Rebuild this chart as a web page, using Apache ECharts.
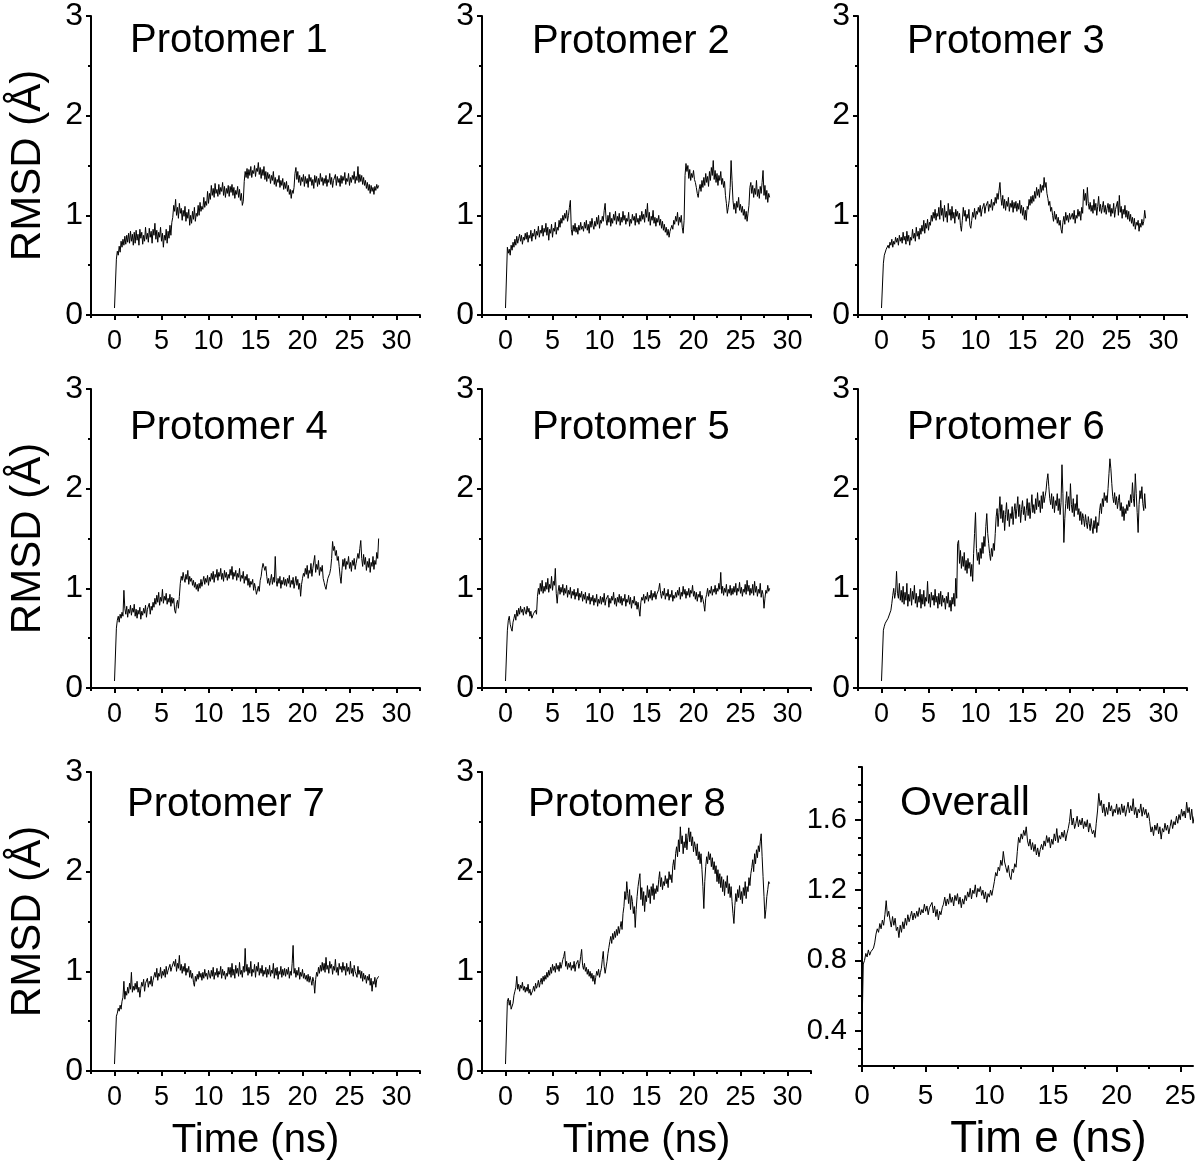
<!DOCTYPE html>
<html><head><meta charset="utf-8">
<script src="https://cdn.jsdelivr.net/npm/echarts@6/dist/echarts.min.js"></script>
<style>html,body{margin:0;padding:0;background:#fff}#c{width:1200px;height:1168px}</style>
</head><body><div id="c"></div>
<script>
// ---------- DATA ----------
const titles = ['Protomer 1','Protomer 2','Protomer 3','Protomer 4','Protomer 5','Protomer 6','Protomer 7','Protomer 8','Overall'];
const yTicksP = [0,1,2,3];
const yMinorP = [0.5,1.5,2.5];
const xTicksP = [0,5,10,15,20,25,30];
const xMinorP = [-2.5,2.5,7.5,12.5,17.5,22.5,27.5,32.5];
const yTicksO = [0.4,0.8,1.2,1.6];
const yMinorO = [0.2,0.3,0.5,0.6,0.7,0.9,1.0,1.1,1.3,1.4,1.5,1.7,1.8,1.9];
const xTicksO = [0,5,10,15,20,25];
const xMinorO = [2.5,7.5,12.5,17.5,22.5];

// sample times (ns)
const time = [0,0.1,
 0.2,0.3,0.4,0.5,0.6,0.7,0.8,0.9,1.0,1.1,1.2,1.3,1.4,1.5,1.6,1.7,1.8,1.9,2.0,2.1,
 2.2,2.3,2.4,2.5,2.6,2.7,2.8,2.9,3.0,3.1,3.2,3.3,3.4,3.5,3.6,3.7,3.8,3.9,4.0,4.1,
 4.2,4.3,4.4,4.5,4.6,4.7,4.8,4.9,5.0,5.1,5.2,5.3,5.4,5.5,5.6,5.7,5.8,5.9,6.0,6.1,
 6.2,6.3,6.4,6.5,6.6,6.7,6.8,6.9,7.0,7.1,7.2,7.3,7.4,7.5,7.6,7.7,7.8,7.9,8.0,8.1,
 8.2,8.3,8.4,8.5,8.6,8.7,8.8,8.9,9.0,9.1,9.2,9.3,9.4,9.5,9.6,9.7,9.8,9.9,10.0,10.1,
 10.2,10.3,10.4,10.5,10.6,10.7,10.8,10.9,11.0,11.1,11.2,11.3,11.4,11.5,11.6,11.7,11.8,11.9,12.0,12.1,
 12.2,12.3,12.4,12.5,12.6,12.7,12.8,12.9,13.0,13.1,13.2,13.3,13.4,13.5,13.6,13.7,13.8,13.9,14.0,14.1,
 14.2,14.3,14.4,14.5,14.6,14.7,14.8,14.9,15.0,15.1,15.2,15.3,15.4,15.5,15.6,15.7,15.8,15.9,16.0,16.1,
 16.2,16.3,16.4,16.5,16.6,16.7,16.8,16.9,17.0,17.1,17.2,17.3,17.4,17.5,17.6,17.7,17.8,17.9,18.0,18.1,
 18.2,18.3,18.4,18.5,18.6,18.7,18.8,18.9,19.0,19.1,19.2,19.3,19.4,19.5,19.6,19.7,19.8,19.9,20.0,20.1,
 20.2,20.3,20.4,20.5,20.6,20.7,20.8,20.9,21.0,21.1,21.2,21.3,21.4,21.5,21.6,21.7,21.8,21.9,22.0,22.1,
 22.2,22.3,22.4,22.5,22.6,22.7,22.8,22.9,23.0,23.1,23.2,23.3,23.4,23.5,23.6,23.7,23.8,23.9,24.0,24.1,
 24.2,24.3,24.4,24.5,24.6,24.7,24.8,24.9,25.0,25.1,25.2,25.3,25.4,25.5,25.6,25.7,25.8,25.9,26.0,26.1,
 26.2,26.3,26.4,26.5,26.6,26.7,26.8,26.9,27.0,27.1,27.2,27.3,27.4,27.5,27.6,27.7,27.8,27.9,28.0,28.1];

const p1 = [0.07,0.07,
 0.56,0.64,0.60,0.69,0.63,0.74,0.68,0.76,0.70,0.79,0.71,0.80,0.73,0.82,0.72,0.84,0.74,0.81,0.70,0.83,
 0.72,0.85,0.75,0.81,0.70,0.86,0.77,0.83,0.71,0.80,0.74,0.88,0.76,0.82,0.73,0.87,0.78,0.84,0.72,0.86,
 0.80,0.92,0.76,0.85,0.73,0.83,0.78,0.88,0.74,0.82,0.68,0.80,0.75,0.86,0.72,0.84,0.77,0.90,0.80,0.93,
 0.98,1.10,1.04,1.16,1.00,1.08,0.97,1.12,1.02,1.07,0.95,1.05,0.99,1.09,0.94,1.03,0.97,1.06,0.90,1.00,
 0.92,1.04,0.96,1.08,0.94,1.02,0.99,1.10,1.00,1.13,1.04,1.09,1.06,1.18,1.08,1.14,1.10,1.24,1.12,1.22,
 1.16,1.30,1.20,1.27,1.18,1.32,1.22,1.26,1.19,1.31,1.21,1.28,1.24,1.33,1.20,1.29,1.18,1.27,1.22,1.30,
 1.19,1.29,1.23,1.31,1.20,1.28,1.17,1.25,1.21,1.29,1.18,1.26,1.15,1.22,1.10,1.14,1.34,1.44,1.38,1.47,
 1.37,1.46,1.40,1.49,1.38,1.45,1.42,1.50,1.39,1.47,1.44,1.53,1.41,1.48,1.37,1.46,1.40,1.49,1.36,1.44,
 1.34,1.43,1.37,1.41,1.32,1.40,1.35,1.44,1.31,1.38,1.29,1.36,1.33,1.40,1.28,1.35,1.30,1.37,1.26,1.33,
 1.27,1.34,1.24,1.30,1.21,1.26,1.17,1.25,1.22,1.28,1.42,1.48,1.36,1.44,1.33,1.40,1.30,1.38,1.34,1.41,
 1.29,1.39,1.32,1.37,1.28,1.41,1.34,1.38,1.30,1.36,1.27,1.40,1.33,1.39,1.29,1.37,1.31,1.42,1.34,1.38,
 1.30,1.37,1.32,1.40,1.29,1.36,1.33,1.42,1.31,1.38,1.28,1.35,1.34,1.41,1.30,1.39,1.33,1.37,1.29,1.40,
 1.32,1.39,1.35,1.43,1.31,1.37,1.34,1.42,1.30,1.38,1.33,1.40,1.36,1.44,1.32,1.39,1.35,1.49,1.33,1.41,
 1.34,1.40,1.31,1.38,1.30,1.35,1.27,1.33,1.25,1.31,1.22,1.30,1.24,1.28,1.21,1.29,1.25,1.31,1.27,1.30];

const p2 = [0.07,0.07,
 0.68,0.62,0.66,0.60,0.70,0.65,0.73,0.68,0.76,0.70,0.79,0.72,0.77,0.81,0.74,0.80,0.71,0.78,0.75,0.82,
 0.76,0.83,0.73,0.80,0.77,0.85,0.74,0.82,0.79,0.86,0.76,0.84,0.80,0.89,0.78,0.85,0.82,0.90,0.79,0.87,
 0.83,0.92,0.80,0.88,0.75,0.86,0.82,0.91,0.78,0.87,0.84,0.93,0.81,0.88,0.85,0.95,0.88,0.97,0.92,1.00,
 0.95,1.02,0.97,1.05,0.94,1.00,1.08,1.15,0.86,0.80,0.90,0.84,0.92,0.83,0.88,0.81,0.90,0.85,0.93,0.86,
 0.89,0.84,0.93,0.87,0.95,0.85,0.91,0.82,0.94,0.88,0.97,0.90,0.86,0.94,0.89,0.98,0.91,1.00,0.87,0.95,
 0.92,0.99,0.94,1.05,1.12,0.96,0.90,1.00,0.93,1.03,0.89,0.97,0.92,1.01,0.95,1.04,0.91,0.99,0.94,1.02,
 0.90,0.98,0.93,1.04,0.95,1.00,0.91,0.97,0.94,1.03,0.89,0.96,0.92,1.01,0.95,0.99,0.90,1.02,0.93,0.97,
 0.91,1.00,0.94,1.04,0.96,1.01,0.93,1.06,0.98,1.12,0.94,1.03,0.90,0.99,0.95,1.05,0.92,0.98,0.89,0.97,
 0.93,1.00,0.90,0.96,0.87,0.94,0.85,0.91,0.83,0.88,0.80,0.86,0.78,0.84,0.82,0.90,0.86,0.95,0.91,0.99,
 0.94,1.03,0.90,0.98,0.93,1.00,0.88,0.82,0.95,1.40,1.52,1.44,1.50,1.37,1.46,1.35,1.42,1.38,1.45,1.36,
 1.33,1.28,1.22,1.18,1.26,1.31,1.24,1.35,1.28,1.38,1.30,1.42,1.33,1.39,1.29,1.44,1.35,1.48,1.40,1.55,
 1.36,1.45,1.33,1.42,1.30,1.40,1.35,1.44,1.31,1.37,1.28,1.34,1.20,1.12,1.02,1.08,1.15,1.28,1.55,1.35,
 1.15,1.06,1.12,1.02,1.14,1.08,1.18,1.05,1.11,1.03,1.09,1.00,1.06,0.96,1.04,0.94,1.02,1.10,1.28,1.33,
 1.22,1.30,1.18,1.27,1.21,1.35,1.19,1.26,1.17,1.29,1.22,1.33,1.45,1.20,1.30,1.16,1.25,1.13,1.22,1.18];

const p3 = [0.07,0.07,
 0.52,0.60,0.58,0.66,0.64,0.70,0.67,0.73,0.70,0.76,0.68,0.74,0.71,0.78,0.73,0.77,0.70,0.80,0.74,0.78,
 0.72,0.83,0.75,0.79,0.71,0.84,0.74,0.80,0.70,0.78,0.75,0.86,0.77,0.82,0.74,0.88,0.79,0.84,0.76,0.87,
 0.81,0.90,0.84,0.95,0.82,0.92,0.87,0.96,0.85,0.93,0.90,1.00,0.94,1.03,0.97,1.06,0.95,1.02,0.99,1.08,
 0.96,1.15,1.00,1.07,0.94,1.10,0.98,1.04,0.93,1.12,1.00,1.06,0.95,1.09,0.97,1.03,0.92,1.06,0.99,1.04,
 0.96,1.02,0.90,0.84,0.95,1.08,0.99,1.05,0.94,1.01,0.97,1.06,0.90,0.87,0.95,1.03,0.98,1.07,0.96,1.04,
 1.01,1.08,1.03,1.10,0.99,1.06,1.05,1.12,1.02,1.09,1.07,1.14,1.04,1.11,1.08,1.16,1.05,1.13,1.10,1.18,
 1.12,1.22,1.16,1.25,1.33,1.18,1.10,1.20,1.07,1.16,1.05,1.14,1.09,1.18,1.04,1.12,1.08,1.15,1.03,1.13,
 1.07,1.14,1.04,1.12,1.06,1.15,1.02,1.10,1.00,1.08,0.96,1.05,0.95,1.09,1.06,1.16,1.10,1.19,1.12,1.20,
 1.14,1.24,1.17,1.28,1.20,1.26,1.18,1.31,1.23,1.30,1.25,1.38,1.28,1.33,1.22,1.17,1.10,1.14,1.04,1.08,
 1.00,0.94,1.04,0.96,1.01,0.92,0.98,0.90,0.95,0.86,0.82,0.93,0.99,0.91,1.03,0.95,1.00,0.93,1.02,0.96,
 0.94,1.02,0.96,1.05,0.92,1.00,0.97,1.06,0.99,1.04,0.95,1.08,1.02,1.26,1.15,1.22,1.10,1.28,1.12,1.06,
 1.13,1.04,1.10,1.02,1.16,1.05,1.12,1.00,1.09,1.19,1.04,1.11,1.02,1.08,1.14,1.03,1.10,1.01,1.07,1.12,
 1.03,1.11,0.99,1.07,1.02,1.12,0.98,1.06,1.04,1.14,1.00,1.20,1.03,1.09,0.97,1.06,1.01,1.10,0.98,1.05,
 0.96,1.04,0.94,1.01,0.92,0.98,0.89,0.97,0.86,0.93,0.90,0.95,0.84,0.92,0.88,0.96,0.90,0.94,1.05,0.97];

const p4 = [0.07,0.07,
 0.60,0.68,0.72,0.66,0.74,0.70,0.76,0.72,0.98,0.80,0.74,0.82,0.71,0.79,0.75,0.83,0.73,0.80,0.76,0.84,
 0.72,0.79,0.70,0.78,0.74,0.81,0.69,0.77,0.73,0.80,0.75,0.83,0.71,0.79,0.77,0.85,0.74,0.82,0.78,0.86,
 0.81,0.90,0.84,0.93,0.86,0.96,0.83,0.91,0.87,0.99,0.85,0.92,0.88,0.95,0.84,0.90,0.86,0.94,0.82,0.91,
 0.85,0.90,0.78,0.75,0.84,0.88,0.80,0.92,1.05,1.12,1.08,1.16,1.10,1.06,1.14,1.09,1.18,1.04,1.12,1.07,
 1.10,1.03,1.08,1.01,1.06,0.99,1.04,0.97,1.05,1.00,1.09,1.02,1.07,1.12,1.04,1.10,1.06,1.13,1.03,1.11,
 1.07,1.15,1.09,1.17,1.06,1.14,1.11,1.19,1.08,1.16,1.12,1.20,1.09,1.15,1.07,1.18,1.11,1.16,1.08,1.14,
 1.10,1.19,1.13,1.22,1.09,1.16,1.12,1.18,1.08,1.15,1.11,1.20,1.07,1.13,1.10,1.17,1.05,1.12,1.08,1.14,
 1.03,1.10,1.01,1.07,1.04,1.09,0.98,1.05,1.00,0.94,0.92,1.02,0.97,1.08,1.12,1.20,1.25,1.27,1.18,1.22,
 1.12,1.05,1.10,1.03,1.08,1.14,1.04,1.11,1.06,1.32,1.08,1.02,1.10,1.05,1.12,1.00,1.08,1.04,1.11,1.03,
 1.09,1.02,1.10,1.05,1.13,1.01,1.08,1.04,1.11,1.00,1.06,1.12,1.03,1.09,0.99,1.05,0.92,1.04,1.10,1.15,
 1.12,1.20,1.14,1.23,1.10,1.18,1.15,1.25,1.12,1.20,1.18,1.33,1.16,1.24,1.19,1.28,1.13,1.21,1.17,1.23,
 1.10,1.06,1.02,0.99,1.05,1.10,1.08,1.15,1.20,1.30,1.47,1.38,1.42,1.33,1.38,1.28,1.32,1.22,1.12,1.05,
 1.18,1.29,1.22,1.30,1.19,1.27,1.24,1.32,1.20,1.26,1.17,1.28,1.23,1.30,1.19,1.25,1.27,1.35,1.30,1.40,
 1.48,1.30,1.22,1.34,1.24,1.31,1.18,1.27,1.21,1.30,1.16,1.26,1.22,1.32,1.19,1.28,1.24,1.36,1.30,1.50];

const p5 = [0.07,0.07,
 0.58,0.68,0.72,0.64,0.60,0.57,0.66,0.70,0.74,0.68,0.78,0.72,0.80,0.74,0.82,0.76,0.79,0.73,0.81,0.77,
 0.74,0.82,0.76,0.80,0.72,0.77,0.70,0.68,0.75,0.73,0.78,0.74,0.92,1.00,0.94,1.05,0.97,1.08,0.95,1.02,
 0.97,1.06,0.99,1.10,0.96,1.04,1.00,1.12,0.98,1.07,1.03,1.20,0.95,0.85,0.97,1.03,0.94,1.01,0.96,1.04,
 0.93,1.00,0.95,1.03,0.91,0.98,0.94,1.01,0.90,0.97,0.93,0.99,0.89,0.96,0.92,1.00,0.88,0.95,0.91,0.97,
 0.87,0.94,0.89,0.96,0.85,0.92,0.88,0.95,0.84,0.91,0.87,0.93,0.83,0.90,0.86,0.94,0.82,0.89,0.85,0.92,
 0.84,0.91,0.86,0.95,0.83,0.89,0.87,0.93,0.81,0.90,0.85,0.92,0.88,0.96,0.84,0.90,0.82,0.91,0.86,0.94,
 0.85,0.92,0.83,0.90,0.87,0.94,0.82,0.89,0.86,0.93,0.84,0.91,0.80,0.88,0.85,0.92,0.83,0.87,0.79,0.86,
 0.84,0.72,0.86,0.91,0.88,0.94,0.85,0.92,0.89,0.96,0.87,0.93,0.90,0.98,0.88,0.95,0.91,0.97,0.89,0.94,
 0.92,0.99,1.05,0.95,0.90,0.97,0.93,1.00,0.89,0.95,0.92,0.99,0.88,0.94,0.91,0.98,0.87,0.93,0.90,0.96,
 0.91,0.98,0.93,1.01,0.89,0.96,0.92,1.02,0.94,0.99,0.90,0.97,0.93,1.00,0.91,0.98,0.95,1.03,0.92,0.97,
 0.89,0.96,0.87,0.94,0.91,0.97,0.86,0.93,0.89,0.84,0.77,0.90,0.94,1.00,0.92,0.98,0.95,1.02,0.93,0.99,
 0.96,1.03,0.94,1.00,0.97,1.05,0.99,1.16,0.95,1.02,0.93,1.00,0.96,1.04,0.92,0.99,0.95,1.03,0.93,1.00,
 0.94,1.02,0.96,1.05,0.93,1.00,0.97,1.06,0.95,1.01,0.92,0.99,0.96,1.04,0.94,1.08,0.97,1.03,0.93,1.00,
 0.95,1.04,0.93,1.07,0.96,1.02,0.92,0.99,0.95,1.05,0.91,0.98,0.94,0.80,0.90,0.98,0.95,1.03,0.97,1.00];

const p6 = [0.07,0.07,
 0.58,0.62,0.65,0.63,0.67,0.70,0.68,0.72,0.78,0.85,0.93,1.00,0.90,0.96,1.17,0.95,0.90,1.05,0.88,0.98,
 0.86,1.02,0.84,0.96,0.88,1.05,0.82,0.94,0.87,1.00,0.83,0.97,0.89,1.03,0.85,0.95,0.81,0.92,0.86,0.99,
 0.80,0.94,0.84,0.98,0.82,0.91,0.87,1.07,0.85,0.94,0.81,0.96,0.88,0.93,0.83,0.99,0.86,0.92,0.80,0.95,
 0.84,0.97,0.82,0.93,0.86,0.90,0.79,0.92,0.85,0.96,0.81,0.88,0.77,0.91,0.84,0.95,0.82,1.10,0.90,1.45,
 1.48,1.25,1.38,1.20,1.32,1.22,1.36,1.18,1.28,1.15,1.30,1.20,1.26,1.12,1.24,1.07,1.35,1.55,1.76,1.40,
 1.28,1.36,1.24,1.40,1.30,1.46,1.35,1.52,1.42,1.62,1.75,1.55,1.45,1.35,1.28,1.40,1.32,1.45,1.38,1.55,
 1.72,1.80,1.62,1.76,1.92,1.70,1.84,1.66,1.78,1.58,1.74,1.86,1.68,1.79,1.62,1.75,1.70,1.82,1.64,1.77,
 1.85,1.70,1.80,1.92,1.72,1.84,1.66,1.79,1.88,1.74,1.82,1.68,1.78,1.90,1.73,1.86,1.70,1.81,1.94,1.76,
 1.84,1.75,1.90,1.79,1.96,1.82,1.88,1.76,1.93,1.80,1.97,1.86,1.92,1.98,2.08,2.15,2.02,1.90,1.84,1.95,
 1.80,1.92,1.76,1.88,1.83,1.95,1.78,1.90,1.74,1.86,2.24,1.95,1.46,1.70,1.85,1.97,1.80,1.92,1.78,2.05,
 1.84,1.76,1.90,1.72,1.85,1.78,1.94,1.74,1.80,1.68,1.77,1.64,1.75,1.70,1.62,1.74,1.66,1.60,1.72,1.65,
 1.58,1.70,1.62,1.55,1.68,1.60,1.72,1.56,1.66,1.63,1.78,1.85,1.75,1.90,1.82,1.96,1.88,1.93,1.86,2.00,
 2.15,2.30,2.20,2.05,1.92,1.86,1.96,1.84,1.92,1.80,1.88,1.94,1.78,1.86,1.72,1.82,1.68,1.80,1.75,1.84,
 1.78,1.88,1.82,1.94,1.86,2.06,1.90,1.82,2.15,1.95,1.76,1.56,1.84,1.98,1.90,2.02,1.85,1.78,1.95,1.80];

const p7 = [0.07,0.07,
 0.55,0.58,0.63,0.60,0.66,0.62,0.70,0.74,0.90,0.72,0.80,0.76,0.84,0.78,0.88,0.82,0.99,0.79,0.85,0.81,
 0.88,0.82,0.90,0.79,0.84,0.74,0.83,0.89,0.85,0.92,0.80,0.88,0.86,0.93,0.84,0.90,0.87,0.95,0.85,0.91,
 0.92,0.99,0.94,1.03,0.91,0.98,0.95,1.04,0.93,1.00,0.96,1.02,0.94,1.05,0.97,1.01,0.99,1.07,1.00,1.04,
 1.03,1.10,1.05,1.12,1.00,1.08,1.03,1.16,1.01,1.07,0.98,1.05,1.00,1.08,0.96,1.03,0.99,1.05,0.94,1.01,
 0.93,0.98,0.89,0.85,0.95,0.90,0.97,0.92,1.00,0.94,0.98,0.91,0.99,0.93,1.02,0.95,0.98,0.92,1.01,0.96,
 0.93,1.01,0.95,1.04,0.92,0.99,0.96,1.03,0.94,1.00,0.97,1.05,0.93,1.02,0.96,1.00,0.92,0.98,0.95,1.04,
 0.97,1.04,0.94,1.08,0.96,1.02,0.93,1.06,0.98,1.03,0.95,1.09,0.97,1.01,0.94,1.05,0.99,1.23,1.00,1.07,
 0.96,1.04,0.98,1.10,0.95,1.02,0.99,1.07,0.94,1.05,1.00,1.09,0.96,1.03,0.98,1.06,0.95,1.01,0.97,1.04,
 0.94,1.02,0.97,1.06,0.95,1.01,0.98,1.08,0.93,1.03,0.96,1.04,0.92,1.00,0.97,1.05,0.94,1.02,0.96,1.03,
 0.95,1.02,0.97,1.04,0.93,1.00,0.96,1.08,1.26,0.98,1.03,0.94,1.01,0.96,1.04,0.92,0.99,0.95,1.02,0.93,
 0.98,0.92,0.96,0.90,0.97,0.89,0.95,0.91,0.86,0.94,0.90,0.78,0.92,0.99,0.95,1.04,0.98,1.06,1.00,1.09,
 1.01,1.08,0.99,1.14,1.02,1.06,0.98,1.10,1.03,1.07,0.97,1.05,1.01,1.12,0.99,1.04,0.96,1.08,1.02,1.05,
 0.99,1.09,1.01,1.05,0.96,1.08,1.00,1.04,0.97,1.10,0.98,1.03,0.95,1.06,1.00,1.02,0.94,1.05,0.97,1.01,
 0.93,1.00,0.90,0.98,0.92,0.96,0.88,0.95,0.91,0.97,0.86,0.93,0.80,0.90,0.87,0.94,0.84,0.92,0.90,0.95];

const p8 = [0.07,0.07,
 0.70,0.73,0.66,0.71,0.62,0.60,0.68,0.76,0.80,0.84,0.95,0.82,0.87,0.80,0.86,0.83,0.89,0.81,0.85,0.79,
 0.84,0.80,0.87,0.78,0.82,0.76,0.75,0.81,0.85,0.80,0.88,0.83,0.86,0.91,0.84,0.89,0.93,0.87,0.95,0.90,
 0.96,0.92,0.99,0.94,1.01,0.96,1.04,0.98,1.07,1.01,1.05,0.99,1.08,1.02,1.06,1.00,1.09,1.03,1.07,1.12,
 1.15,1.20,1.05,1.10,1.02,1.08,1.04,1.09,1.01,1.06,1.03,1.10,1.00,1.07,1.05,1.11,1.03,1.08,1.15,1.22,
 1.06,1.02,1.08,1.00,1.04,0.97,1.02,0.95,1.00,0.93,0.98,0.90,0.96,0.87,0.94,1.00,0.96,1.02,0.94,0.99,
 1.03,1.12,1.20,1.05,0.98,0.97,1.10,1.18,1.24,1.30,1.35,1.28,1.38,1.32,1.40,1.34,1.42,1.36,1.45,1.38,
 1.44,1.50,1.42,1.58,1.65,1.80,1.72,1.90,1.78,1.68,1.82,1.62,1.76,1.70,1.58,1.65,1.44,1.62,1.75,1.85,
 1.92,1.98,1.72,1.84,1.66,1.80,1.60,1.76,1.70,1.86,1.74,1.82,1.68,1.85,1.76,1.88,1.72,1.83,1.78,1.86,
 1.80,1.92,2.00,1.85,1.94,1.82,1.90,1.86,1.96,1.88,1.93,1.84,2.00,1.92,1.97,1.89,2.06,2.12,2.02,2.18,
 2.25,2.15,2.32,2.20,2.45,2.28,2.36,2.18,2.30,2.24,2.38,2.22,2.34,2.44,2.30,2.40,2.26,2.35,2.20,2.30,
 2.25,2.16,2.28,2.12,2.20,2.08,2.18,2.02,1.85,1.63,1.90,2.05,2.15,2.08,2.20,2.12,2.18,2.05,2.14,2.02,
 2.10,1.98,2.06,1.90,2.02,1.88,1.98,1.84,1.95,1.80,1.92,1.76,1.90,1.84,1.96,1.78,1.88,1.74,1.85,1.70,
 1.58,1.48,1.66,1.78,1.70,1.82,1.74,1.86,1.72,1.80,1.68,1.84,1.76,1.90,1.73,1.85,1.80,1.94,1.86,1.98,
 2.04,2.12,2.00,2.18,2.08,2.22,2.14,2.26,2.20,2.30,2.38,2.15,1.95,1.75,1.53,1.62,1.75,1.82,1.90,1.88];

const overall = [0.40,0.78,
 0.80,0.84,0.82,0.86,0.83,0.85,0.84,0.87,0.90,0.95,0.98,0.96,1.01,0.98,1.03,1.00,1.06,1.14,1.05,1.08,
 1.03,0.99,1.05,1.00,1.04,0.97,0.99,0.93,1.00,0.96,1.02,0.98,1.04,1.00,1.06,1.02,1.05,1.08,1.03,1.07,
 1.04,1.08,1.05,1.10,1.06,1.09,1.07,1.12,1.08,1.11,1.06,1.10,1.09,1.13,1.07,1.11,1.05,1.09,1.03,1.08,
 1.06,1.10,1.12,1.16,1.11,1.15,1.12,1.18,1.13,1.16,1.11,1.17,1.14,1.18,1.12,1.16,1.10,1.15,1.12,1.17,
 1.14,1.19,1.16,1.21,1.15,1.20,1.18,1.23,1.16,1.21,1.19,1.22,1.17,1.20,1.15,1.19,1.13,1.18,1.16,1.20,
 1.17,1.21,1.25,1.30,1.28,1.33,1.31,1.37,1.34,1.42,1.36,1.33,1.30,1.34,1.28,1.26,1.32,1.30,1.35,1.33,
 1.42,1.50,1.47,1.52,1.49,1.54,1.51,1.56,1.48,1.45,1.49,1.43,1.47,1.42,1.46,1.40,1.44,1.39,1.43,1.46,
 1.43,1.48,1.45,1.51,1.47,1.50,1.44,1.49,1.46,1.52,1.48,1.55,1.47,1.51,1.49,1.53,1.50,1.54,1.48,1.52,
 1.55,1.59,1.66,1.57,1.61,1.55,1.58,1.62,1.56,1.60,1.57,1.61,1.55,1.59,1.56,1.60,1.53,1.58,1.55,1.52,
 1.54,1.50,1.58,1.65,1.75,1.68,1.71,1.64,1.69,1.62,1.67,1.63,1.70,1.65,1.68,1.62,1.66,1.64,1.69,1.63,
 1.67,1.63,1.69,1.64,1.68,1.62,1.66,1.70,1.64,1.68,1.65,1.72,1.63,1.67,1.61,1.66,1.64,1.69,1.62,1.67,
 1.63,1.66,1.61,1.64,1.59,1.53,1.56,1.51,1.57,1.54,1.58,1.52,1.56,1.49,1.55,1.53,1.58,1.54,1.57,1.52,
 1.56,1.60,1.55,1.59,1.57,1.62,1.58,1.63,1.60,1.66,1.62,1.65,1.61,1.70,1.64,1.67,1.60,1.66,1.58,1.62];

// ---------- LAYOUT ----------
const FONT = "'Liberation Sans', Arial, Helvetica, sans-serif";
const seriesValues = [p1,p2,p3,p4,p5,p6,p7,p8,overall];
const layout = [
  {left:91, top:16, width:329, height:299},
  {left:482, top:16, width:329, height:299},
  {left:858, top:16, width:329, height:299},
  {left:91, top:389, width:329, height:299},
  {left:482, top:389, width:329, height:299},
  {left:858, top:389, width:329, height:299},
  {left:91, top:772, width:329, height:299},
  {left:482, top:772, width:329, height:299},
  {left:862, top:767, width:331, height:299}
];
const titlePos = [[130,21],[532,22],[907,22],[130,408],[532,408],[907,408],[127,785],[528,785],[900,783]];

const grid=[], xMain=[], yMain=[], xMin=[], yMin=[], series=[], title=[];
const axLine = {show:true, onZero:false, lineStyle:{color:'#000', width:2}};
layout.forEach((g,i)=>{
  const ov = i===8;
  grid.push({left:g.left, top:g.top, width:g.width, height:g.height});
  const xmin = ov?0:-2.5, xmax = ov?26:32.5, ymin = ov?0.2:0, ymax = ov?1.9:3;
  xMain.push({type:'value', gridIndex:i, position:'bottom', min:xmin, max:xmax,
    axisLine:axLine, splitLine:{show:false},
    axisTick:{show:true, customValues: ov?xTicksO:xTicksP, length:ov?6:5, lineStyle:{color:'#000', width:2}},
    axisLabel:{customValues: ov?xTicksO:xTicksP, margin: ov?16:13, fontSize: ov?28:27, color:'#000', fontFamily:FONT},
    name: i>=6 ? (ov?'Tim e (ns)':'Time (ns)') : '',
    nameLocation:'middle', nameGap: ov?52:50,
    nameTextStyle:{fontSize: ov?44:40, color:'#000', fontFamily:FONT, padding: ov?[0,0,0,42]:0}
  });
  xMin.push({type:'value', gridIndex:i, position:'bottom', min:xmin, max:xmax,
    axisLine:{show:false, onZero:false}, splitLine:{show:false}, axisLabel:{show:false},
    axisTick:{show:true, customValues: ov?xMinorO:xMinorP, length:3, lineStyle:{color:'#000', width:2}}
  });
  yMain.push({type:'value', gridIndex:i, position:'left', min:ymin, max:ymax,
    axisLine:axLine, splitLine:{show:false},
    axisTick:{show:true, customValues: ov?yTicksO:yTicksP, length:ov?7:5, lineStyle:{color:'#000', width:2}},
    axisLabel:{customValues: ov?yTicksO:yTicksP, margin: ov?15:8, fontSize: ov?29:32, color:'#000', fontFamily:FONT,
      formatter: ov ? (v=>Number(v).toFixed(1)) : (v=>String(v))},
    name: (i%3===0 && !ov) ? 'RMSD (Å)' : '',
    nameLocation:'middle', nameRotate:90, nameGap:42,
    nameTextStyle:{fontSize:42, color:'#000', fontFamily:FONT}
  });
  yMin.push({type:'value', gridIndex:i, position:'left', min:ymin, max:ymax,
    axisLine:{show:false, onZero:false}, splitLine:{show:false}, axisLabel:{show:false},
    axisTick:{show:true, customValues: ov?yMinorO:yMinorP, length:ov?4:3, lineStyle:{color:'#000', width:2}}
  });
  const vals = seriesValues[i];
  series.push({type:'line', xAxisIndex:i, yAxisIndex:i, showSymbol:false, symbol:'none', silent:true, clip:true,
    lineStyle:{color:'#000', width:1}, data: vals.map((v,k)=>[time[k], v])});
  title.push({text:titles[i], left:titlePos[i][0], top:titlePos[i][1], padding:0,
    textStyle:{fontSize: ov?41:40, fontWeight:'normal', color:'#000', fontFamily:FONT}});
});

const chart = echarts.init(document.getElementById('c'), null, {renderer:'canvas'});
chart.setOption({
  animation:false, backgroundColor:'#fff',
  title, grid,
  xAxis: xMain.concat(xMin),
  yAxis: yMain.concat(yMin),
  series
});
</script>
</body></html>
